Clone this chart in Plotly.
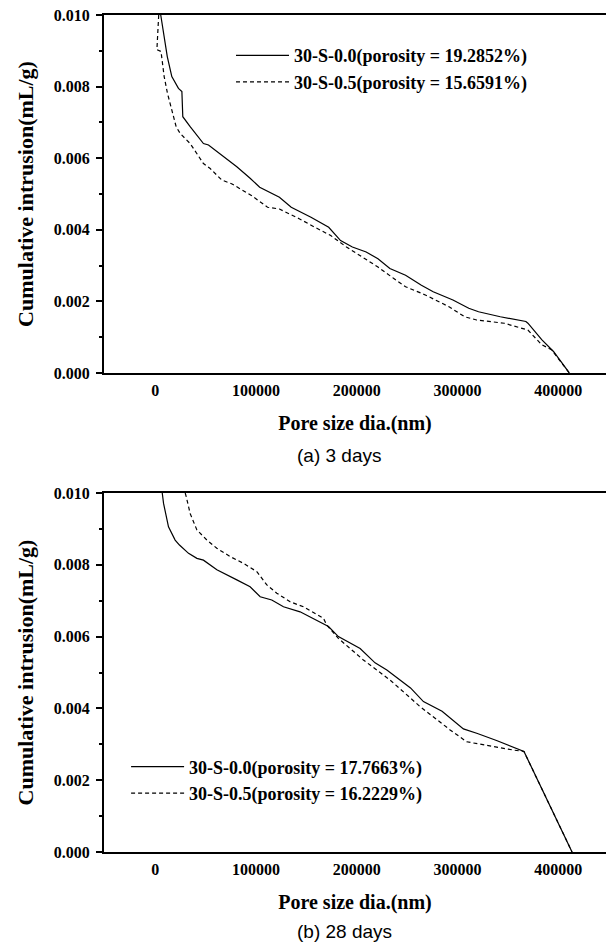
import plotly.graph_objects as go

# ---------------- data ----------------
# (a) 3 days
a_s00_x = [5500, 8900, 12000, 16500, 23100, 26500, 27400, 34700, 47900, 52900, 67800, 81000,
           94200, 103700, 123300, 135000, 154600, 172200, 184000, 195700, 209400, 221100,
           232900, 248500, 264200, 275900, 295500, 311200, 320900, 342500, 367900, 369900,
           383600, 395300, 411000]
a_s00_y = [0.0100, 0.00939, 0.00884, 0.00828, 0.00795, 0.00786, 0.00716, 0.00688, 0.00641,
           0.00637, 0.00604, 0.00576, 0.00544, 0.00519, 0.00491, 0.00463, 0.00435, 0.00407,
           0.00370, 0.00352, 0.00338, 0.00319, 0.00292, 0.00273, 0.00245, 0.00227, 0.00204,
           0.00181, 0.00171, 0.00157, 0.00144, 0.00139, 0.00093, 0.00060, 0.0]

a_s05_x = [3500, 1700, 5800, 8900, 12200, 16500, 20800, 24800, 34700, 47900, 54600, 66100,
           76300, 95900, 111500, 123300, 142900, 158500, 174200, 189800, 205500, 221100,
           236800, 248500, 268100, 291600, 307200, 319000, 346400, 369900, 383600, 393300,
           411000]
a_s05_y = [0.0100, 0.00903, 0.00898, 0.00828, 0.00781, 0.00735, 0.00688, 0.00669, 0.00641,
           0.00585, 0.00571, 0.00539, 0.00528, 0.00495, 0.00463, 0.00458, 0.00431, 0.00407,
           0.00384, 0.00352, 0.00324, 0.00296, 0.00264, 0.00241, 0.00218, 0.00185, 0.00157,
           0.00148, 0.00139, 0.00120, 0.00079, 0.00065, 0.0]

# (b) 28 days
b_s00_x = [7000, 8300, 13200, 19800, 24100, 33100, 41400, 47900, 61200, 67800, 81000, 94200,
           104200, 115700, 127300, 143800, 163700, 172000, 181800, 203400, 218200, 229900,
           253400, 266200, 284700, 305900, 319800, 339400, 366000, 413700]
b_s00_y = [0.0100, 0.00971, 0.00906, 0.00869, 0.00855, 0.00832, 0.00818, 0.00813, 0.00786,
           0.00776, 0.00758, 0.00739, 0.00711, 0.00702, 0.00683, 0.00669, 0.00641, 0.00628,
           0.00600, 0.00567, 0.00527, 0.00507, 0.00457, 0.00419, 0.00392, 0.00343, 0.00330,
           0.00310, 0.00280, 0.0]

b_s05_x = [29800, 30800, 34700, 41400, 51300, 61200, 74400, 87600, 100900, 110800, 120700,
           133900, 147100, 167000, 170300, 181800, 206600, 233100, 262900, 292700, 309200,
           335600, 355500, 366000, 413700]
b_s05_y = [0.0100, 0.00990, 0.00943, 0.00897, 0.00869, 0.00846, 0.00823, 0.00804, 0.00781,
           0.00744, 0.00721, 0.00697, 0.00683, 0.00651, 0.00632, 0.00595, 0.00535, 0.00479,
           0.00405, 0.00340, 0.00307, 0.00293, 0.00284, 0.00280, 0.0]

names_a = ["30-S-0.0(porosity = 19.2852%)", "30-S-0.5(porosity = 15.6591%)"]
names_b = ["30-S-0.0(porosity = 17.7663%)", "30-S-0.5(porosity = 16.2229%)"]
captions = ["(a) 3 days", "(b) 28 days"]
x_title = "Pore size dia.(nm)"
y_title = "Cumulative intrusion(mL/g)"

# ---------------- figure ----------------
SERIF = "Liberation Serif, Times New Roman, serif"
SANS = "Liberation Sans, Arial, sans-serif"

fig = go.Figure()
solid = dict(color="black", width=1.2)
dashed = dict(color="black", width=1.2, dash="4px,3px")

fig.add_trace(go.Scatter(x=a_s00_x, y=a_s00_y, mode="lines", line=solid, name=names_a[0],
                         xaxis="x", yaxis="y", legend="legend"))
fig.add_trace(go.Scatter(x=a_s05_x, y=a_s05_y, mode="lines", line=dashed, name=names_a[1],
                         xaxis="x", yaxis="y", legend="legend"))
fig.add_trace(go.Scatter(x=b_s00_x, y=b_s00_y, mode="lines", line=solid, name=names_b[0],
                         xaxis="x2", yaxis="y2", legend="legend2"))
fig.add_trace(go.Scatter(x=b_s05_x, y=b_s05_y, mode="lines", line=dashed, name=names_b[1],
                         xaxis="x2", yaxis="y2", legend="legend2"))

tickfont = dict(family=SERIF, size=16, color="black", weight="bold")
xcommon = dict(range=[-50800, 447400], tick0=0, dtick=100000, tickformat="d",
               showgrid=False, zeroline=False, showline=True, linecolor="black", linewidth=2,
               mirror=True, ticks="", ticklabelstandoff=2, tickfont=tickfont,
               ticklabeloverflow="allow",
               title=dict(text=x_title, font=dict(family=SERIF, size=20, color="black", weight="bold"),
                          standoff=18))
ycommon = dict(range=[0, 0.010], tick0=0, dtick=0.002, tickformat=".3f",
               showgrid=False, zeroline=False, showline=True, linecolor="black", linewidth=2,
               mirror=True, ticks="outside", ticklen=6, tickwidth=2, tickcolor="black",
               ticklabelstandoff=3, ticklabeloverflow="allow",
               minor=dict(dtick=0.001, ticks="outside", ticklen=3, tickwidth=1.5, tickcolor="black"),
               tickfont=tickfont,
               title=dict(text=y_title, font=dict(family=SERIF, size=22, color="black", weight="bold"),
                          standoff=14))

legend_font = dict(family=SERIF, size=18, color="black", weight="bold")

fig.update_layout(
    width=614, height=942,
    template="none",
    paper_bgcolor="white", plot_bgcolor="white",
    margin=dict(l=96, r=16, t=7, b=98),
    xaxis=dict(domain=[0, 1], anchor="y", **xcommon),
    yaxis=dict(domain=[0.5723, 1], anchor="x", **ycommon),
    xaxis2=dict(domain=[0, 1], anchor="y2", **xcommon),
    yaxis2=dict(domain=[0, 0.4289], anchor="x2", **ycommon),
    legend=dict(x=0.253, y=0.9734, xanchor="left", yanchor="top", bgcolor="rgba(0,0,0,0)",
                borderwidth=0, itemwidth=53, tracegroupgap=0, font=legend_font),
    legend2=dict(x=0.044, y=0.1237, xanchor="left", yanchor="top", bgcolor="rgba(0,0,0,0)",
                 borderwidth=0, itemwidth=53, tracegroupgap=0, font=legend_font),
    showlegend=True,
)

fig.add_annotation(text=captions[0], xref="paper", yref="paper", x=0.380, y=0.4743,
                   xanchor="left", yanchor="middle", showarrow=False,
                   font=dict(family=SANS, size=19, color="black"))
fig.add_annotation(text=captions[1], xref="paper", yref="paper", x=0.380, y=-0.095,
                   xanchor="left", yanchor="middle", showarrow=False,
                   font=dict(family=SANS, size=19, color="black"))

fig.write_html("out.html")
